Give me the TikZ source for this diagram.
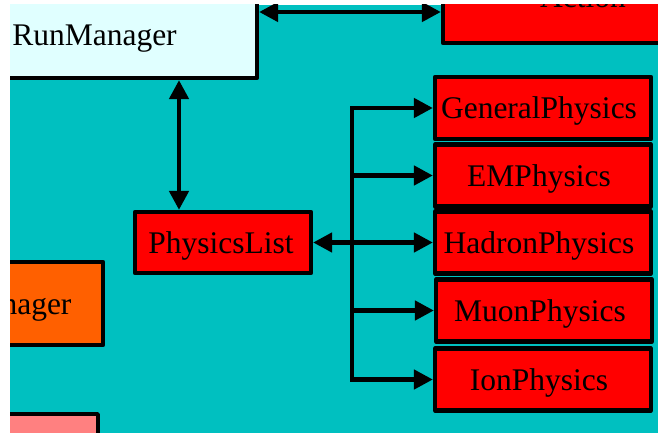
\documentclass[tikz,border=0pt]{standalone}
\usepackage{fontspec}
\setmainfont{Liberation Serif}
\usetikzlibrary{arrows.meta}
\definecolor{canvas}{HTML}{00C0C0}
\definecolor{runfill}{HTML}{E0FFFF}
\definecolor{mgrfill}{HTML}{FF6000}
\definecolor{pinkfill}{HTML}{FF8080}
\begin{document}
\begin{tikzpicture}[x=1pt,y=-1pt,
  fat/.tip={Triangle[length=19pt,width=19pt]},
  box/.style={draw=black, line width=4.2pt, line join=round, inner sep=0pt,
    text height=21pt, text depth=0pt, font=\fontsize{31.5}{37}\selectfont},
  physbox/.style={box, fill=red, minimum width=216pt, minimum height=62pt},
  link/.style={line width=4.5pt}]
\useasboundingbox (0,0) rectangle (658,433);
\fill[white] (0,0) rectangle (658,433);
\begin{scope}
\clip (10,5) rectangle (658,433);
\fill[canvas] (10,5) rectangle (658,433);

% managers and user classes
\node[box, fill=runfill, minimum width=325pt, minimum height=86pt] (run) at (94.5,35) {RunManager};
\node[box, fill=red, minimum width=280pt, minimum height=91pt] (action) at (583,-2.5) {Action};
\node[box, fill=red, minimum width=176pt, minimum height=61pt] (plist) at (223,242.5) {\hspace*{-4pt}PhysicsList};
\node[box, fill=mgrfill, minimum width=133pt, minimum height=83pt] (mgr) at (36.5,303.5) {nager};
\node[box, fill=pinkfill, minimum width=120pt, minimum height=60pt, anchor=north east] (pinkbox) at (100,412) {};

% physics constructors
\node[physbox] (gen) at (543,108) {\hspace*{-8pt}GeneralPhysics};
\node[physbox] (em) at (543,175.5) {\hspace*{-8pt}EMPhysics};
\node[physbox] (had) at (543,242.5) {\hspace*{-8pt}HadronPhysics};
\node[physbox] (muon) at (544,310.5) {\hspace*{-8pt}MuonPhysics};
\node[physbox] (ion) at (543,379.5) {\hspace*{-8pt}IonPhysics};

% connectors
\coordinate (topline) at (0,12);
\coordinate (stem) at (179,0);
\coordinate (bus) at (352,0);
\draw[link, fat-fat] (run.east |- topline) -- (action.west |- topline);
\draw[link, fat-fat] (run.south -| stem) -- (plist.north -| stem);
\draw[link, -fat] (plist.east -| bus) -- (plist.east);
\draw[link, fat-fat] (gen.west) -- (gen.west -| bus) -- (ion.west -| bus) -- (ion.west);
\draw[link, -fat] (em.west -| bus) -- (em.west);
\draw[link, -fat] (had.west -| bus) -- (had.west);
\draw[link, -fat] (muon.west -| bus) -- (muon.west);
\end{scope}
\end{tikzpicture}
\end{document}
